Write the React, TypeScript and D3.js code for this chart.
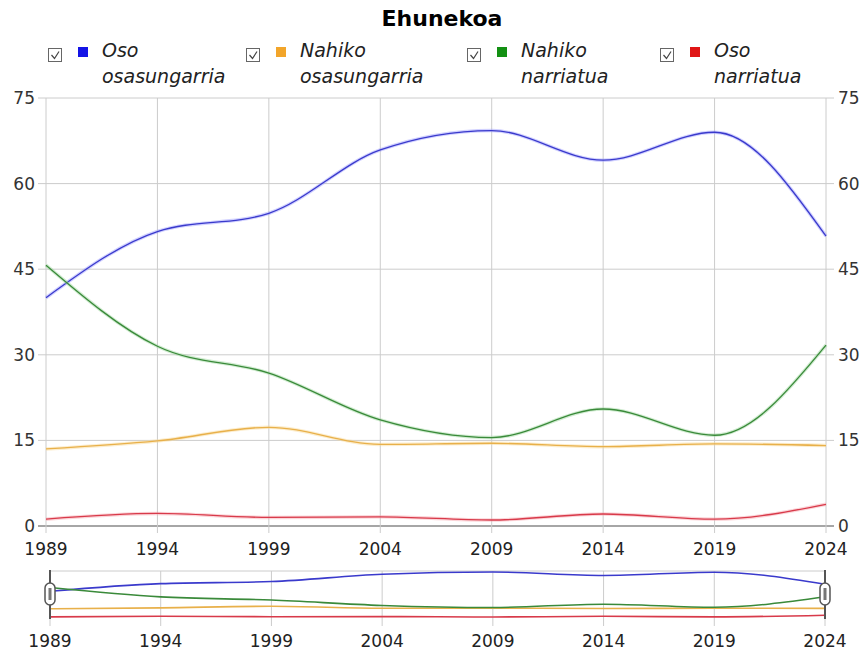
import React from "react";
import * as d3 from "d3";

const years = [1989, 1994, 1999, 2004, 2009, 2014, 2019, 2024];
const osoOsasungarria = [40, 51.6, 54.8, 65.9, 69.3, 64.1, 69.0, 50.8];
const nahikoOsasungarria = [13.5, 14.9, 17.3, 14.3, 14.5, 13.9, 14.4, 14.1];
const nahikoNarriatua = [45.7, 31.5, 26.8, 18.6, 15.5, 20.5, 15.9, 31.7];
const osoNarriatua = [1.2, 2.2, 1.5, 1.6, 1.05, 2.1, 1.2, 3.8];
const yTicks = [0, 15, 30, 45, 60, 75];

const series = [
  { name: ["Oso", "osasungarria"], values: osoOsasungarria, line: "#3a3acc", halo: "#9a9aff", swatch: "#1414e6", lx: 48 },
  { name: ["Nahiko", "osasungarria"], values: nahikoOsasungarria, line: "#e8b04a", halo: "#f8d890", swatch: "#f2a52a", lx: 246 },
  { name: ["Nahiko", "narriatua"], values: nahikoNarriatua, line: "#3a8a3a", halo: "#9ad49a", swatch: "#139013", lx: 467 },
  { name: ["Oso", "narriatua"], values: osoNarriatua, line: "#d83a4a", halo: "#f6a0a8", swatch: "#e01616", lx: 660 },
];

const font = "DejaVu Sans, Verdana, sans-serif";

export default function App() {
  const W = 861, H = 650;
  const x = d3.scaleLinear().domain([1989, 2024]).range([46, 826]);
  const y = d3.scaleLinear().domain([0, 75]).range([526, 98]);
  const nx = d3.scaleLinear().domain([1989, 2024]).range([50, 825]);
  const all = series.flatMap((s) => s.values);
  const ny = d3.scaleLinear().domain([d3.min(all)!, d3.max(all)!]).range([617, 572]);

  const line = d3.line<number>().x((_, i) => x(years[i])).y((v) => y(v)).curve(d3.curveMonotoneX);
  const nline = d3.line<number>().x((_, i) => nx(years[i])).y((v) => ny(v)).curve(d3.curveMonotoneX);

  return (
    <svg width={W} height={H} style={{ position: "absolute", left: 0, top: 0, background: "#fff" }} fontFamily={font}>
      <text x={442} y={26} textAnchor="middle" fontSize={22} fontWeight="bold" fill="#000">Ehunekoa</text>

      {/* legend */}
      {series.map((s) => (
        <g key={s.name.join(" ")}>
          <rect x={s.lx + 0.5} y={48.5} width={13} height={13} fill="#fff" stroke="#666" strokeWidth={1} />
          <path d={`M${s.lx + 3.5},${55} L${s.lx + 6.5},${58.5} L${s.lx + 11},${51.5}`} fill="none" stroke="#444" strokeWidth={1.2} />
          <rect x={s.lx + 30} y={47} width={10} height={10} fill={s.swatch} />
          <text x={s.lx + 54} y={57} fontSize={19} fontStyle="italic" fill="#222">{s.name[0]}</text>
          <text x={s.lx + 54} y={83} fontSize={19} fontStyle="italic" fill="#222">{s.name[1]}</text>
        </g>
      ))}

      {/* grid */}
      {yTicks.map((t) => (
        <g key={t}>
          <line x1={38} x2={834} y1={y(t)} y2={y(t)} stroke={t === 0 ? "#888" : "#ccc"} strokeWidth={t === 0 ? 1.5 : 1} />
          <text x={35} y={y(t) + 6} textAnchor="end" fontSize={17} fill="#333">{t}</text>
          <text x={838} y={y(t) + 6} textAnchor="start" fontSize={17} fill="#333">{t}</text>
        </g>
      ))}
      {years.map((yr) => (
        <g key={yr}>
          <line x1={x(yr)} x2={x(yr)} y1={98} y2={533} stroke="#ccc" />
          <text x={x(yr)} y={555} textAnchor="middle" fontSize={17} fill="#222">{yr}</text>
        </g>
      ))}

      {/* lines */}
      {series.map((s) => (
        <g key={"l" + s.name.join(" ")}>
          <path d={line(s.values)!} fill="none" stroke={s.halo} strokeOpacity={0.45} strokeWidth={3.5} />
          <path d={line(s.values)!} fill="none" stroke={s.line} strokeWidth={1.3} />
        </g>
      ))}

      {/* navigator */}
      <line x1={50} x2={825} y1={571} y2={571} stroke="#ccc" />
      {years.map((yr) => (
        <g key={"n" + yr}>
          <line x1={nx(yr)} x2={nx(yr)} y1={571} y2={626} stroke="#ccc" />
          <text x={nx(yr)} y={647} textAnchor="middle" fontSize={17} fill="#222">{yr}</text>
        </g>
      ))}
      {series.map((s) => (
        <path key={"n" + s.name.join(" ")} d={nline(s.values)!} fill="none" stroke={s.line} strokeWidth={1.6} />
      ))}
      {[50, 825].map((hx) => (
        <g key={"h" + hx}>
          <line x1={hx} x2={hx} y1={570} y2={619} stroke="#555" strokeWidth={2} />
          <rect x={hx - 5} y={583} width={10} height={22} rx={5} fill="#fff" stroke="#555" strokeWidth={1.5} />
          <rect x={hx - 1.5} y={588} width={3} height={12} fill="#777" />
        </g>
      ))}
    </svg>
  );
}
